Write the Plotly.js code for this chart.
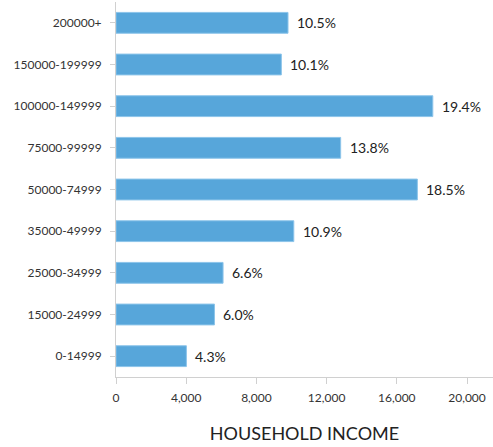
<!DOCTYPE html>
<html>
<head>
<meta charset="utf-8">
<script src="https://cdn.plot.ly/plotly-3.0.1.min.js"></script>
<style>html,body{margin:0;padding:0;background:#fff;}#chart{width:493px;height:447px;}</style>
</head>
<body>
<div id="chart"></div>
<script>
const categories = ["0-14999","15000-24999","25000-34999","35000-49999","50000-74999","75000-99999","100000-149999","150000-199999","200000+"];
const households = [4010, 5610, 6100, 10130, 17170, 12800, 18050, 9420, 9800];
const percentLabels = ["4.3%","6.0%","6.6%","10.9%","18.5%","13.8%","19.4%","10.1%","10.5%"];

const trace = {
  type: 'bar',
  orientation: 'h',
  x: households,
  y: categories,
  marker: {color: '#57a6da', line: {color: '#8cc4ea', width: 1}},
  hoverinfo: 'none'
};

const annotations = categories.map((c, i) => ({
  x: households[i], y: c, xref: 'x', yref: 'y',
  text: percentLabels[i], showarrow: false,
  xanchor: 'left', yanchor: 'middle', xshift: 7,
  font: {family: 'Lato, sans-serif', size: 14, color: '#222'}
}));

const layout = {
  width: 493, height: 447,
  margin: {l: 116, r: 0, t: 2, b: 70},
  paper_bgcolor: '#fff', plot_bgcolor: '#fff',
  bargap: 0.5,
  showlegend: false,
  font: {family: 'Lato, sans-serif', color: '#333'},
  xaxis: {
    range: [0, 21480],
    tickvals: [0, 4000, 8000, 12000, 16000, 20000],
    tickformat: ',d',
    showgrid: false, zeroline: false,
    showline: true, linecolor: '#d0d0d0', linewidth: 1,
    ticks: 'outside', ticklen: 6, tickcolor: '#d0d0d0',
    ticklabelstandoff: 4,
    tickfont: {family: 'Lato, sans-serif', size: 12, color: '#333'},
    title: {text: 'HOUSEHOLD INCOME', font: {family: 'Lato, sans-serif', size: 18, color: '#222'}, standoff: 22}
  },
  yaxis: {
    type: 'category',
    range: [-0.5, 8.5],
    showgrid: false, zeroline: false,
    showline: true, linecolor: '#d0d0d0', linewidth: 1,
    ticks: 'outside', ticklen: 5, tickcolor: '#d0d0d0',
    ticklabelstandoff: 6,
    tickfont: {family: 'Lato, sans-serif', size: 12, color: '#333'}
  },
  annotations: annotations
};

Plotly.newPlot('chart', [trace], layout, {displayModeBar: false, staticPlot: true});
</script>
</body>
</html>
